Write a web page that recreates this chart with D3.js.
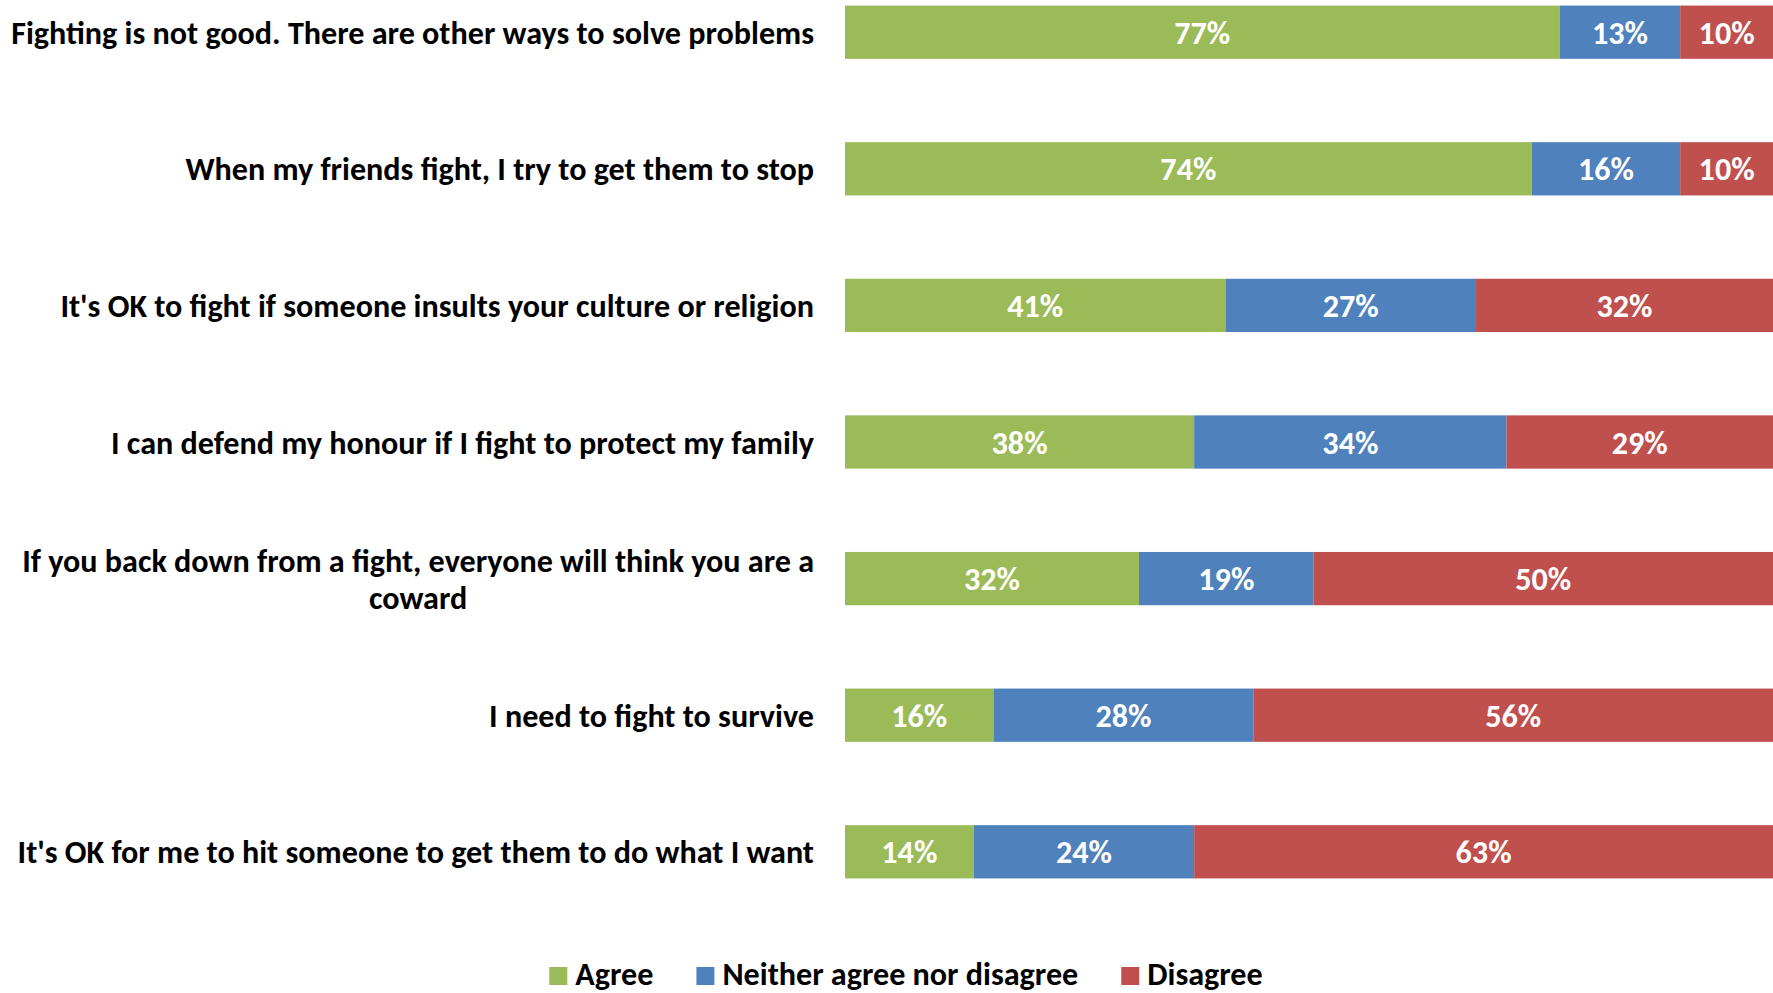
<!DOCTYPE html>
<html>
<head>
<meta charset="utf-8">
<script src="https://cdn.jsdelivr.net/npm/d3@7/dist/d3.min.js"></script>
<style>
  html, body { margin: 0; padding: 0; background: #fff; }
  svg { display: block; }
</style>
</head>
<body>
<svg id="chart" width="1773" height="993"></svg>
<script>
// ---- data ----
const categories = [
  "Fighting is not good. There are other ways to solve problems",
  "When my friends fight, I try to get them to stop",
  "It's OK to fight if someone insults your culture or religion",
  "I can defend my honour if I fight to protect my family",
  "If you back down from a fight, everyone will think you are a\ncoward",
  "I need to fight to survive",
  "It's OK for me to hit someone to get them to do what I want"
];
const seriesNames = ["Agree", "Neither agree nor disagree", "Disagree"];
const agree    = [77, 74, 41, 38, 32, 16, 14];
const neither  = [13, 16, 27, 34, 19, 28, 24];
const disagree = [10, 10, 32, 29, 50, 56, 63];
const colors = ["#9BBB59", "#4F81BD", "#C0504D"];

// ---- layout ----
const W = 1773, H = 993;
const barLeft = 845, barRight = 1773;
const labelRight = 814;
const fontStack = "Carlito, Calibri, 'Liberation Sans Narrow', 'Liberation Sans', sans-serif";

const svg = d3.select("#chart");

// fit font size so longest single-line label is ~803px wide
const probe = svg.append("text").attr("font-family", fontStack).attr("font-weight", "bold")
  .attr("font-size", 30).text(categories[0]);
const probeW = probe.node().getComputedTextLength();
probe.remove();
const fs = 30 * 803 / probeW;

const rows = categories.map((c, i) => ({cat: c, Agree: agree[i], "Neither agree nor disagree": neither[i], Disagree: disagree[i]}));
const stack = d3.stack().keys(seriesNames).offset(d3.stackOffsetExpand);
const layers = stack(rows);

const x = d3.scaleLinear().domain([0, 1]).range([barLeft, barRight]);
const step = 136.6;
const y = d3.scaleBand().domain(categories)
  .range([32.2 - step / 2, 32.2 - step / 2 + step * categories.length])
  .paddingInner(0.61).paddingOuter(0.305);

const gBars = svg.append("g");
layers.forEach((layer, si) => {
  const g = gBars.append("g").attr("fill", colors[si]);
  g.selectAll("rect").data(layer).join("rect")
    .attr("x", d => x(d[0]))
    .attr("y", d => y(d.data.cat))
    .attr("width", d => x(d[1]) - x(d[0]))
    .attr("height", y.bandwidth());
});

// data labels
layers.forEach((layer, si) => {
  const key = seriesNames[si];
  svg.append("g").selectAll("text").data(layer).join("text")
    .attr("x", d => (x(d[0]) + x(d[1])) / 2)
    .attr("y", d => y(d.data.cat) + y.bandwidth() / 2)
    .attr("dy", "0.36em")
    .attr("text-anchor", "middle")
    .attr("font-family", fontStack)
    .attr("font-weight", "bold")
    .attr("font-size", fs)
    .attr("fill", "#fff")
    .text(d => d.data[key] + "%");
});

// category labels
const lineH = 37.3;
const gLab = svg.append("g").attr("font-family", fontStack).attr("font-weight", "bold")
  .attr("font-size", fs).attr("fill", "#000");
categories.forEach(c => {
  const lines = c.split("\n");
  const cy = y(c) + y.bandwidth() / 2;
  if (lines.length === 1) {
    gLab.append("text").attr("x", labelRight).attr("y", cy).attr("dy", "0.36em")
      .attr("text-anchor", "end").text(c);
  } else {
    const t0 = gLab.append("text").attr("y", 0).text(lines[0]);
    const w0 = t0.node().getComputedTextLength();
    t0.remove();
    const cx = labelRight - w0 / 2;
    lines.forEach((ln, li) => {
      gLab.append("text").attr("x", cx)
        .attr("y", cy + (li - (lines.length - 1) / 2) * lineH)
        .attr("dy", "0.36em").attr("text-anchor", "middle").text(ln);
    });
  }
});

// legend
const legY = 973, sq = 18, gapText = 8, gapItem = 43;
const gLeg = svg.append("g").attr("font-family", fontStack).attr("font-weight", "bold")
  .attr("font-size", fs).attr("fill", "#000");
const widths = seriesNames.map(n => {
  const t = gLeg.append("text").text(n);
  const w = t.node().getComputedTextLength();
  t.remove();
  return w;
});
const total = d3.sum(widths) + seriesNames.length * (sq + gapText) + (seriesNames.length - 1) * gapItem;
let lx = 906 - total / 2;
seriesNames.forEach((n, i) => {
  gLeg.append("rect").attr("x", lx).attr("y", legY + 3 - sq / 2).attr("width", sq).attr("height", sq)
    .attr("fill", colors[i]);
  gLeg.append("text").attr("x", lx + sq + gapText).attr("y", legY).attr("dy", "0.36em").text(n);
  lx += sq + gapText + widths[i] + gapItem;
});
</script>
</body>
</html>
